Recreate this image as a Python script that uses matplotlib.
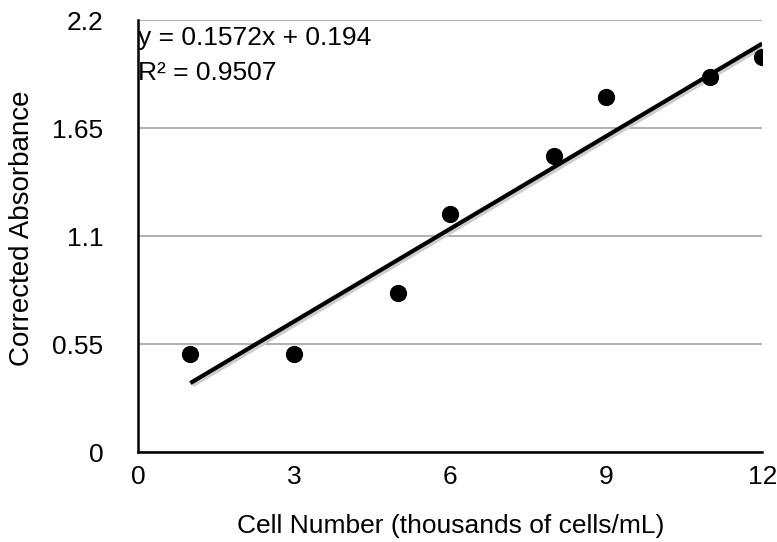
import numpy as np
import matplotlib.pyplot as plt

plt.rcParams['font.family'] = ['Liberation Sans', 'DejaVu Sans']

# data
cells = [1, 3, 5, 6, 8, 9, 11, 12]
absorbance = [0.50, 0.50, 0.81, 1.21, 1.51, 1.81, 1.91, 2.01]
slope, intercept = 0.1572, 0.194
r2 = 0.9507

xticks = [0, 3, 6, 9, 12]
yticks = [0, 0.55, 1.1, 1.65, 2.2]
yticklabels = ["0", "0.55", "1.1", "1.65", "2.2"]

fig = plt.figure(figsize=(7.77, 5.42), dpi=100)
ax = fig.add_axes([0.178, 0.166, 0.803, 0.797])

ax.scatter(cells, absorbance, s=130, color="black", zorder=3)

xfit = np.array([min(cells), max(cells)])
yfit = slope * xfit + intercept
# faint shadow under the trendline
ax.plot(xfit + 0.04, yfit - 0.012, color="#cccccc", lw=3, zorder=2, solid_capstyle="butt")
ax.plot(xfit, yfit, color="black", lw=3, zorder=4, solid_capstyle="butt")

ax.set_xlim(0, 12)
ax.set_ylim(0, 2.2)
ax.set_xticks(xticks)
ax.set_yticks(yticks)
ax.set_yticklabels(yticklabels)
ax.tick_params(axis="x", length=0, labelsize=19, pad=9)
ax.tick_params(axis="y", length=0, labelsize=19, pad=25)
ax.yaxis.grid(True, color="#b3b3b3", lw=1.5)
ax.set_axisbelow(True)
for s in ["top", "right"]:
    ax.spines[s].set_visible(False)
for s in ["left", "bottom"]:
    ax.spines[s].set_linewidth(1.8)

ax.set_xlabel("Cell Number (thousands of cells/mL)", fontsize=19)
ax.set_ylabel("Corrected Absorbance", fontsize=20)
ax.xaxis.set_label_coords(0.5, -0.172)
ax.yaxis.set_label_coords(-0.186, 0.519)
ax.xaxis.label.set_va("center")
ax.yaxis.label.set_va("center")

ax.text(0.0, 2.11, f"y = {slope}x + {intercept}", fontsize=19, va="center", ha="left")
ax.text(0.0, 1.93, f"R² = {r2}", fontsize=19, va="center", ha="left")

fig.savefig("out.png", dpi=100)
